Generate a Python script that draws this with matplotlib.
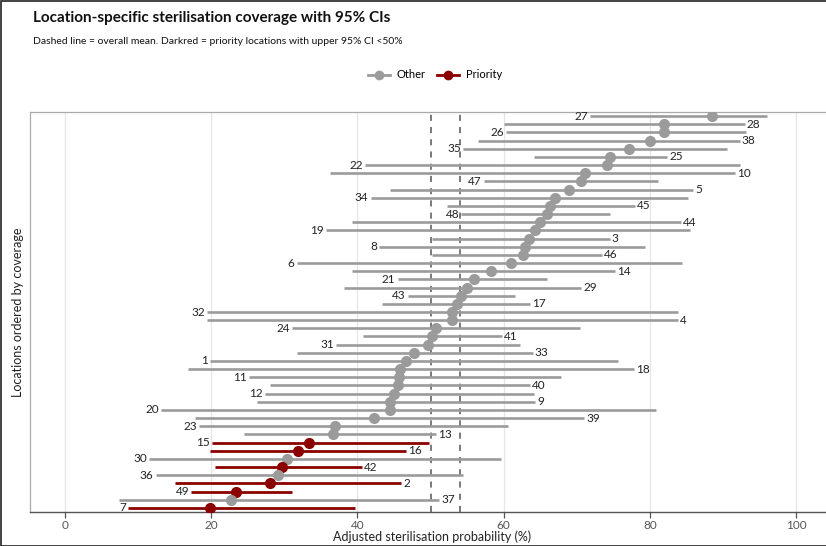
import matplotlib
matplotlib.use("Agg")
import matplotlib.pyplot as plt
from matplotlib.lines import Line2D

plt.rcParams['font.family'] = ['Lato', 'DejaVu Sans']

# Locations, ordered from highest to lowest adjusted coverage
locations = [27, 28, 26, 38, 35, 25, 22, 10, 47, 5, 34, 45, 48, 44, 19, 3, 8,
             46, 6, 14, 21, 29, 43, 17, 32, 4, 24, 41, 31, 33, 1, 18, 11, 40,
             12, 9, 20, 39, 23, 13, 15, 16, 30, 42, 36, 2, 49, 37, 7]
estimate = [88.5, 81.9, 81.9, 80.0, 77.1, 74.5, 74.1, 71.2, 70.6, 68.9, 67.0,
            66.3, 65.9, 65.0, 64.3, 63.5, 62.9, 62.6, 61.0, 58.3, 55.9, 55.0,
            54.2, 53.6, 52.9, 52.9, 50.8, 50.2, 49.7, 47.7, 46.7, 45.8, 45.7,
            45.5, 45.0, 44.5, 44.4, 42.3, 37.0, 36.7, 33.4, 31.9, 30.4, 29.7,
            29.2, 28.0, 23.4, 22.7, 19.9]
lower = [71.8, 60.1, 60.3, 56.5, 54.5, 64.2, 41.0, 36.2, 57.3, 44.5, 41.8,
         52.3, 54.2, 39.2, 35.7, 50.2, 43.0, 50.2, 31.7, 39.3, 45.5, 38.2,
         46.9, 43.4, 19.4, 19.4, 31.1, 40.8, 37.1, 31.8, 19.8, 16.8, 25.2,
         28.1, 27.3, 26.2, 13.1, 17.8, 18.3, 24.5, 20.1, 19.9, 11.5, 20.5,
         12.4, 15.0, 17.3, 7.4, 8.6]
upper = [96.0, 93.0, 93.1, 92.3, 90.6, 82.4, 92.3, 91.6, 81.1, 85.9, 85.2,
         78.0, 74.5, 84.3, 85.5, 74.5, 79.4, 73.4, 84.4, 75.2, 65.9, 70.6,
         61.5, 63.6, 83.9, 83.9, 70.4, 59.8, 62.2, 64.0, 75.7, 77.8, 67.8,
         63.6, 64.1, 64.3, 80.8, 71.0, 60.6, 50.7, 49.8, 46.7, 59.7, 40.6,
         54.5, 46.0, 31.0, 51.2, 39.7]

threshold = 50.0
overall_mean = 54.0
x_ticks = [0, 20, 40, 60, 80, 100]

GREY = "#9b9b9b"
DARKRED = "#8b0000"

fig = plt.figure(figsize=(8.26, 5.46), dpi=100)
W, H = 826, 546
ax = fig.add_axes([30 / W, 1 - 512 / H, (834 - 30) / W, (512 - 112) / H])

n = len(locations)
for i, (loc, est, lo, hi) in enumerate(zip(locations, estimate, lower, upper)):
    y = n - i
    priority = hi < threshold
    col = DARKRED if priority else GREY
    ax.plot([lo, hi], [y, y], color=col, lw=2.0 if priority else 1.9,
            solid_capstyle='butt', zorder=3)
    ax.plot(est, y, 'o', color=col, ms=7, zorder=4)
    if i % 2 == 0:
        ax.annotate(str(loc), (lo, y), xytext=(-1.5, 0), textcoords='offset points',
                    ha='right', va='center', fontsize=8.5, color='#222222')
    else:
        ax.annotate(str(loc), (hi, y), xytext=(1.5, 0), textcoords='offset points',
                    ha='left', va='center', fontsize=8.5, color='#222222')

for xv in (threshold, overall_mean):
    ax.axvline(xv, color='#555555', lw=1.1, ls=(0, (4, 4)), zorder=2)

ax.set_xlim(-4.79, 105.2)
ax.set_ylim(0.5, n + 0.5)
ax.set_xticks(x_ticks)
ax.set_xticklabels([str(t) for t in x_ticks])
ax.set_yticks([])
ax.grid(axis='x', color='#e6e6e6', lw=0.9, zorder=0)
ax.set_axisbelow(True)
ax.tick_params(axis='x', length=4, width=0.9, color='#555555', labelcolor='#555555',
               labelsize=8.5, pad=1.5)
for side in ('left', 'top', 'right'):
    ax.spines[side].set_color('#aaaaaa')
    ax.spines[side].set_linewidth(0.9)
ax.spines['bottom'].set_color('#555555')
ax.spines['bottom'].set_linewidth(1.0)

ax.set_xlabel("Adjusted sterilisation probability (%)", fontsize=9, color='#222222',
              labelpad=0)
ax.set_ylabel("Locations ordered by coverage", fontsize=9, color='#222222', labelpad=4)

fig.text(33 / W, 1 - 18 / H, "Location-specific sterilisation coverage with 95% CIs",
         fontsize=11, fontweight='bold', ha='left', va='center', color='#111111')
fig.text(33 / W, 1 - 41 / H,
         "Dashed line = overall mean. Darkred = priority locations with upper 95% CI <50%",
         fontsize=7.5, ha='left', va='center', color='#111111')

handles = [
    Line2D([], [], color=GREY, lw=2, marker='o', ms=6, label='Other'),
    Line2D([], [], color=DARKRED, lw=2, marker='o', ms=6, label='Priority'),
]
fig.legend(handles=handles, loc='center', bbox_to_anchor=(435 / W, 1 - 75 / H),
           ncol=2, frameon=False, fontsize=8, handlelength=2.0, handletextpad=0.6,
           columnspacing=1.0)

# Outer border around the figure
fig.patches.append(plt.Rectangle((0.5 / W, 0), 1.2, 1 - 0.5 / H, transform=fig.transFigure,
                                 fill=False, edgecolor='#222222', lw=1.2))

fig.savefig("out.png", dpi=100)
